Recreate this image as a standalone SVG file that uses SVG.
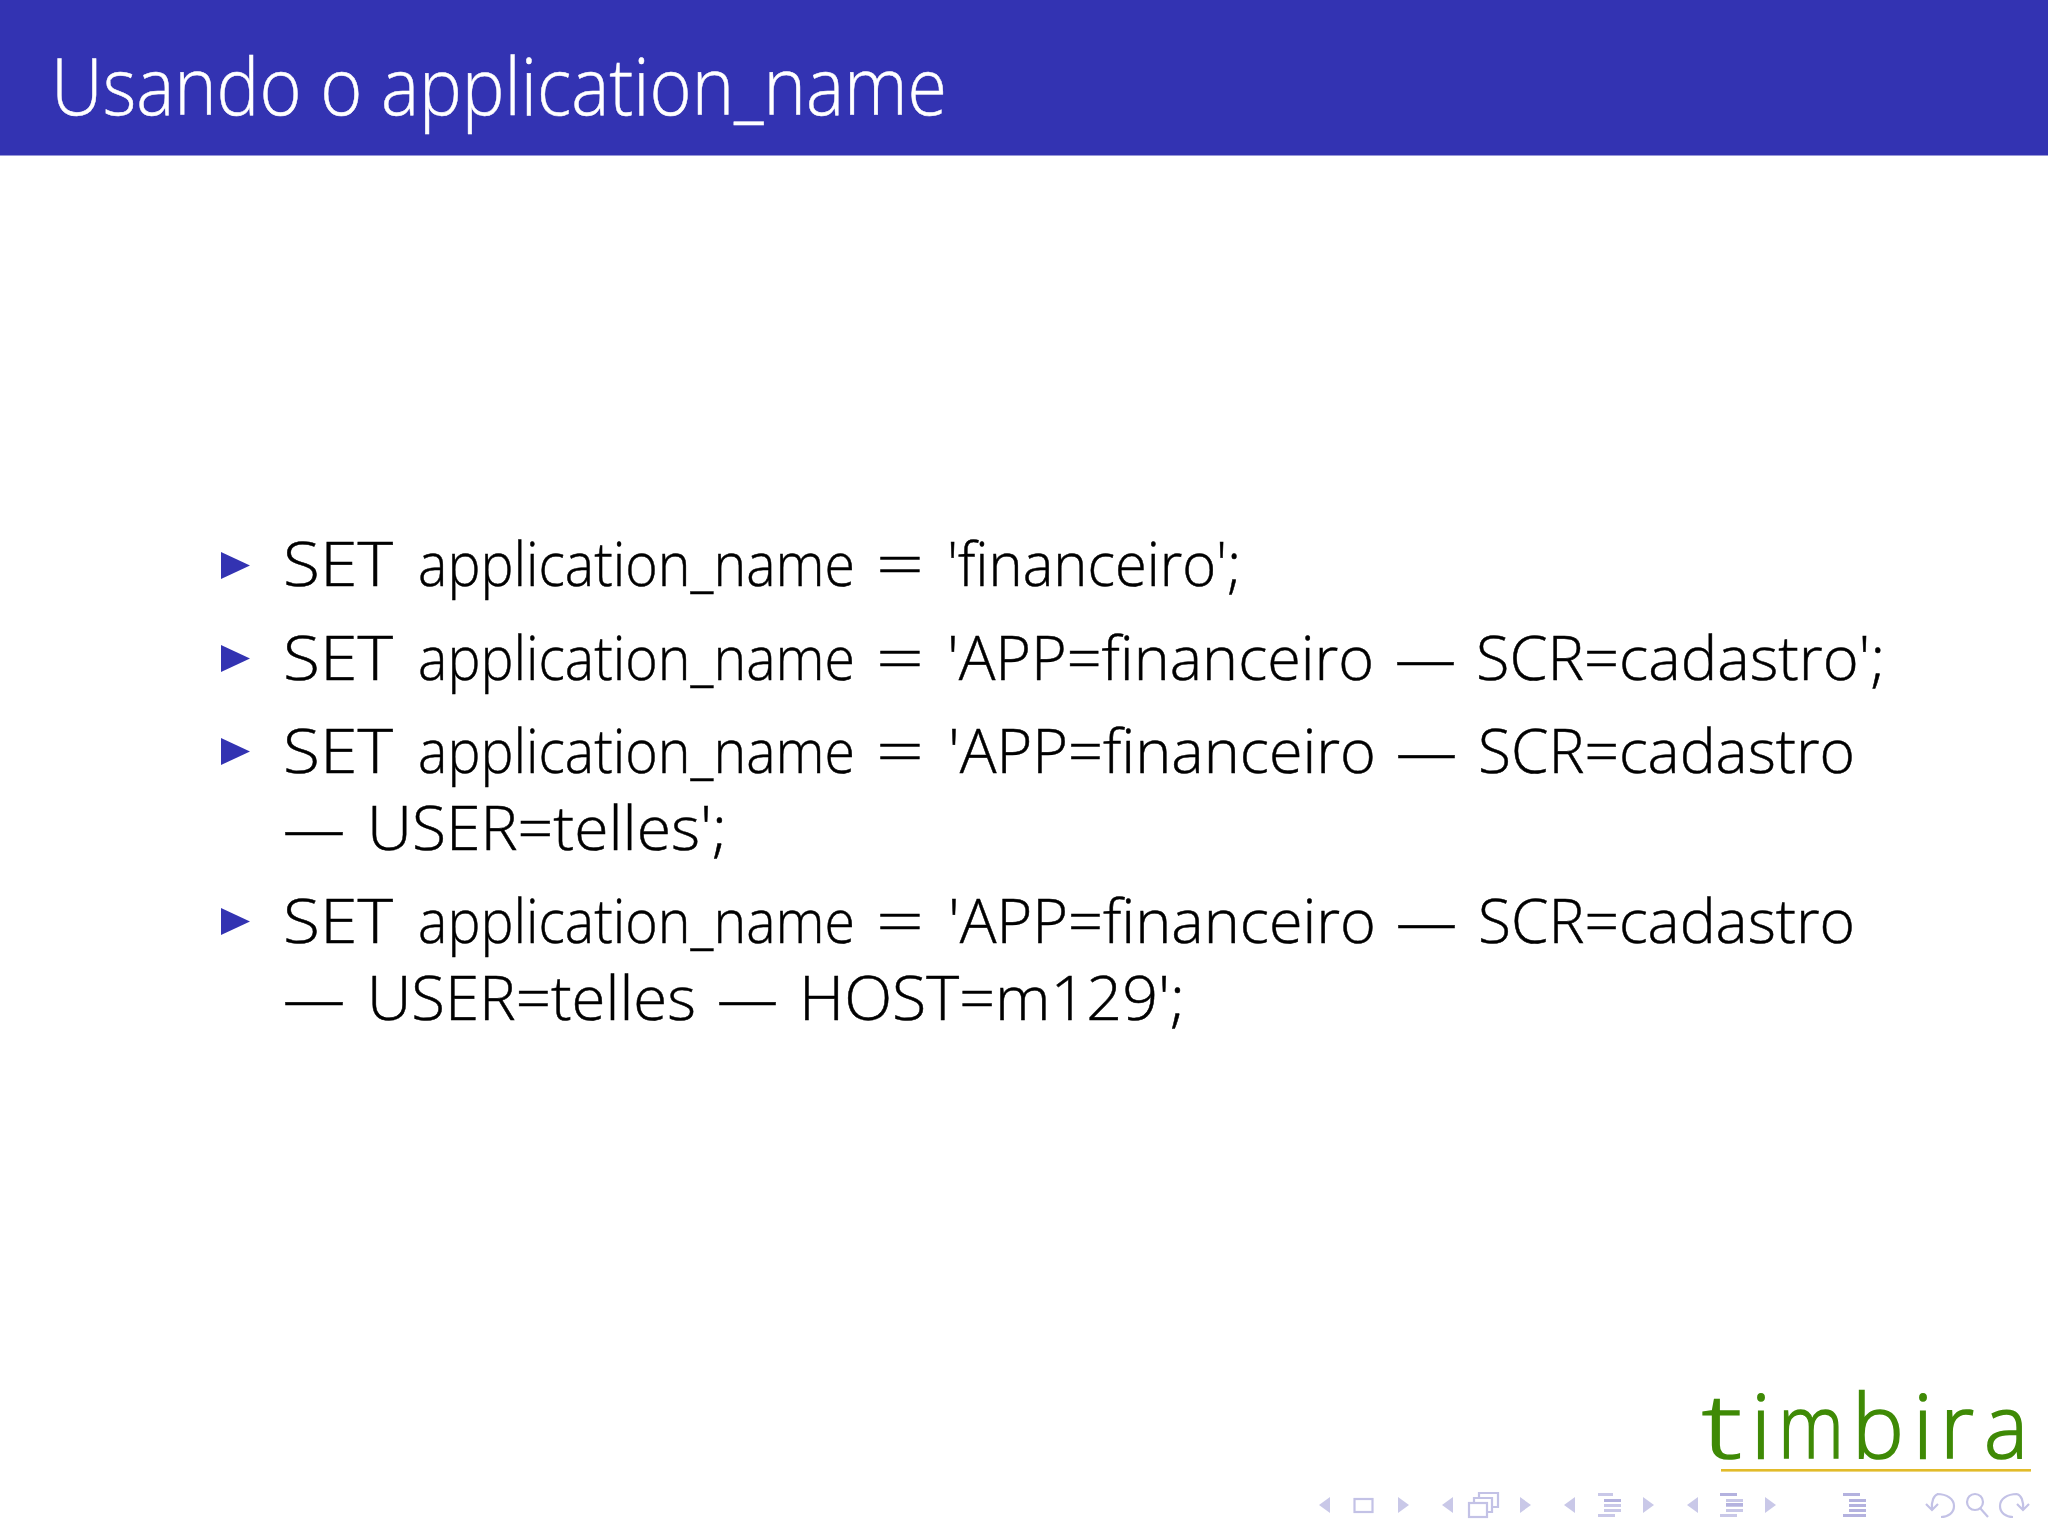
<svg xmlns="http://www.w3.org/2000/svg" width="2048" height="1536" viewBox="0 0 2048 1536">
<style>
text{font-family:"Open Sans","Noto Sans","Liberation Sans",sans-serif;font-weight:300;white-space:pre}
.t{font-size:61px;fill:#000;stroke:#000;stroke-width:.5}
.nav{fill:#c9c8e8}
.navd{fill:none;stroke:#c3c2e6;stroke-width:2.2}
.lo{fill:#c9c8e8}
.hi{fill:#b4b2df}
</style>
<defs>
<polygon id="b" points="0,0 29,13.5 0,27" fill="#3333b2"/>
<polygon id="l" class="nav" points="11,0 11,16 0,8"/>
<polygon id="r" class="nav" points="0,0 0,16 11,8"/>
<g id="lines3"><rect x="0" y="0" width="15" height="3" class="lo"/><rect x="6" y="6" width="17" height="3" class="lo"/><rect x="6" y="11" width="17" height="3" class="lo"/><rect x="6" y="16" width="17" height="3" class="lo"/><rect x="0" y="21" width="17" height="3" class="lo"/></g>
</defs>
<rect width="2048" height="1536" fill="#fff"/>
<g id="header">
<rect width="2048" height="155.500" fill="#3333b2"/>
<text x="51" y="115" font-size="80" fill="#fff" stroke="#fff" stroke-width=".5" textLength="896" lengthAdjust="spacingAndGlyphs">Usando o application_name</text>
</g>
<g id="item1">
<use href="#b" x="221" y="552"/>
<text class="t" y="586"><tspan x="283" textLength="110" lengthAdjust="spacingAndGlyphs">SET</tspan> <tspan x="418" textLength="437" lengthAdjust="spacingAndGlyphs">application_name</tspan> <tspan x="876" textLength="48" lengthAdjust="spacingAndGlyphs">=</tspan> <tspan x="947" textLength="294" lengthAdjust="spacingAndGlyphs">'financeiro';</tspan></text>
</g>
<g id="item2">
<use href="#b" x="221" y="645"/>
<text class="t" y="680"><tspan x="283" textLength="110" lengthAdjust="spacingAndGlyphs">SET</tspan> <tspan x="418" textLength="437" lengthAdjust="spacingAndGlyphs">application_name</tspan> <tspan x="876" textLength="48" lengthAdjust="spacingAndGlyphs">=</tspan> <tspan x="947" textLength="427" lengthAdjust="spacingAndGlyphs">'APP=financeiro</tspan> <tspan x="1395" textLength="61" lengthAdjust="spacingAndGlyphs">—</tspan> <tspan x="1476" textLength="409" lengthAdjust="spacingAndGlyphs">SCR=cadastro';</tspan></text>
</g>
<g id="item3">
<use href="#b" x="221" y="738"/>
<text class="t" y="773"><tspan x="283" textLength="110" lengthAdjust="spacingAndGlyphs">SET</tspan> <tspan x="418" textLength="437" lengthAdjust="spacingAndGlyphs">application_name</tspan> <tspan x="876" textLength="48" lengthAdjust="spacingAndGlyphs">=</tspan> <tspan x="948" textLength="428" lengthAdjust="spacingAndGlyphs">'APP=financeiro</tspan> <tspan x="1396" textLength="61" lengthAdjust="spacingAndGlyphs">—</tspan> <tspan x="1478" textLength="377" lengthAdjust="spacingAndGlyphs">SCR=cadastro</tspan></text>
<text class="t" y="850"><tspan x="283" textLength="62" lengthAdjust="spacingAndGlyphs">—</tspan> <tspan x="367" textLength="360" lengthAdjust="spacingAndGlyphs">USER=telles';</tspan></text>
</g>
<g id="item4">
<use href="#b" x="221" y="908"/>
<text class="t" y="943"><tspan x="283" textLength="110" lengthAdjust="spacingAndGlyphs">SET</tspan> <tspan x="418" textLength="437" lengthAdjust="spacingAndGlyphs">application_name</tspan> <tspan x="876" textLength="48" lengthAdjust="spacingAndGlyphs">=</tspan> <tspan x="948" textLength="428" lengthAdjust="spacingAndGlyphs">'APP=financeiro</tspan> <tspan x="1396" textLength="61" lengthAdjust="spacingAndGlyphs">—</tspan> <tspan x="1478" textLength="377" lengthAdjust="spacingAndGlyphs">SCR=cadastro</tspan></text>
<text class="t" y="1020"><tspan x="283" textLength="62" lengthAdjust="spacingAndGlyphs">—</tspan> <tspan x="367" textLength="329" lengthAdjust="spacingAndGlyphs">USER=telles</tspan> <tspan x="717" textLength="61" lengthAdjust="spacingAndGlyphs">—</tspan> <tspan x="799" textLength="386" lengthAdjust="spacingAndGlyphs">HOST=m129';</tspan></text>
</g>
<g id="logo">
<text y="1458" font-size="88" fill="#3f8a06" stroke="#3f8a06" stroke-width="1.6"><tspan x="1702" textLength="40" lengthAdjust="spacingAndGlyphs">t</tspan><tspan x="1751">i</tspan><tspan x="1778" textLength="66" lengthAdjust="spacingAndGlyphs">m</tspan><tspan x="1852" textLength="52" lengthAdjust="spacingAndGlyphs">b</tspan><tspan x="1913">i</tspan><tspan x="1940" textLength="34" lengthAdjust="spacingAndGlyphs">r</tspan><tspan x="1984" textLength="44" lengthAdjust="spacingAndGlyphs">a</tspan></text>
<rect x="1721" y="1469" width="310" height="2.600" fill="#e2bb2a"/>
</g>
<g id="nav">
<use href="#l" x="1319" y="1497"/><rect class="navd" x="1354.500" y="1499" width="18" height="13"/><use href="#r" x="1398" y="1497"/>
<use href="#l" x="1442" y="1497"/>
<g class="navd"><rect x="1469" y="1503" width="18" height="14"/><path d="M1474 1503v-5h18v14h-5M1479 1498v-5h19v14h-6"/></g>
<use href="#r" x="1520" y="1497"/>
<use href="#l" x="1564" y="1497"/><use href="#lines3" x="1598" y="1493"/><rect class="hi" x="1604" y="1499" width="17" height="3"/><use href="#r" x="1643" y="1497"/>
<use href="#l" x="1687" y="1497"/><use href="#lines3" x="1720" y="1493"/><rect class="hi" x="1720" y="1493" width="17" height="3"/><rect class="hi" x="1726" y="1503" width="17" height="3"/><use href="#r" x="1765" y="1497"/>
<use href="#lines3" x="1843" y="1493"/><rect class="hi" x="1843" y="1493" width="17" height="3"/><rect class="hi" x="1849" y="1499" width="17" height="3"/><rect class="hi" x="1849" y="1504" width="17" height="3"/><rect class="hi" x="1849" y="1509" width="17" height="3"/><rect class="hi" x="1843" y="1514" width="23" height="3"/>
<path class="navd" d="M1937 1494c10 0 17 5 17 12s-6 11-13 11M1926 1504l6 6 6-6M1932 1510c-1-9 2-15 6-16"/>
<circle class="navd" cx="1975" cy="1502" r="8"/><path class="navd" stroke-width="3.4" d="M1980 1508l8 9"/>
<path class="navd" d="M2017 1494c-10 0-17 5-17 12s6 11 13 11M2029 1504l-6 6-6-6M2023 1510c1-9-2-15-6-16"/>
</g>
</svg>
